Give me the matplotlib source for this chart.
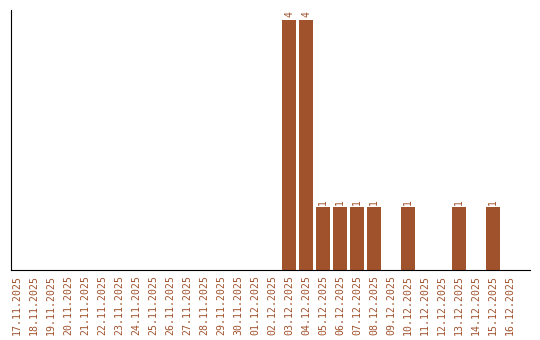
import matplotlib
matplotlib.use('Agg')
from matplotlib import pyplot as plt
import numpy as np

dates = ['17.11.2025', '18.11.2025', '19.11.2025', '20.11.2025', '21.11.2025',
         '22.11.2025', '23.11.2025', '24.11.2025', '25.11.2025', '26.11.2025',
         '27.11.2025', '28.11.2025', '29.11.2025', '30.11.2025', '01.12.2025',
         '02.12.2025', '03.12.2025', '04.12.2025', '05.12.2025', '06.12.2025',
         '07.12.2025', '08.12.2025', '09.12.2025', '10.12.2025', '11.12.2025',
         '12.12.2025', '13.12.2025', '14.12.2025', '15.12.2025', '16.12.2025']
counts = [0, 0, 0, 0, 0, 0, 0, 0, 0, 0, 0, 0, 0, 0, 0, 0,
          4, 4, 1, 1, 1, 1, 0, 1, 0, 0, 1, 0, 1, 0]

color = '#a0522d'

fig = plt.figure(figsize=(5.4, 3.4), dpi=100)
ax = fig.add_axes([0.0204, 0.206, 0.9611, 0.765])

x = np.arange(len(dates))
bars = ax.bar(x, counts, width=0.82, color=color)

for xi, c in zip(x, counts):
    if c > 0:
        ax.text(xi, c + 0.04, str(c), rotation=90, ha='center', va='bottom',
                color=color, fontsize=7, family='DejaVu Sans Mono')

ax.set_xticks(x)
ax.set_xticklabels(dates, rotation=90, color=color, fontsize=7.1,
                   family='DejaVu Sans Mono')
ax.tick_params(axis='x', length=0, pad=3.5)
ax.set_yticks([])
ax.set_xlim(-0.36, 30.18)
ax.set_ylim(0, 4.16)
ax.spines['top'].set_visible(False)
ax.spines['right'].set_visible(False)

fig.savefig('out.png', dpi=100)
